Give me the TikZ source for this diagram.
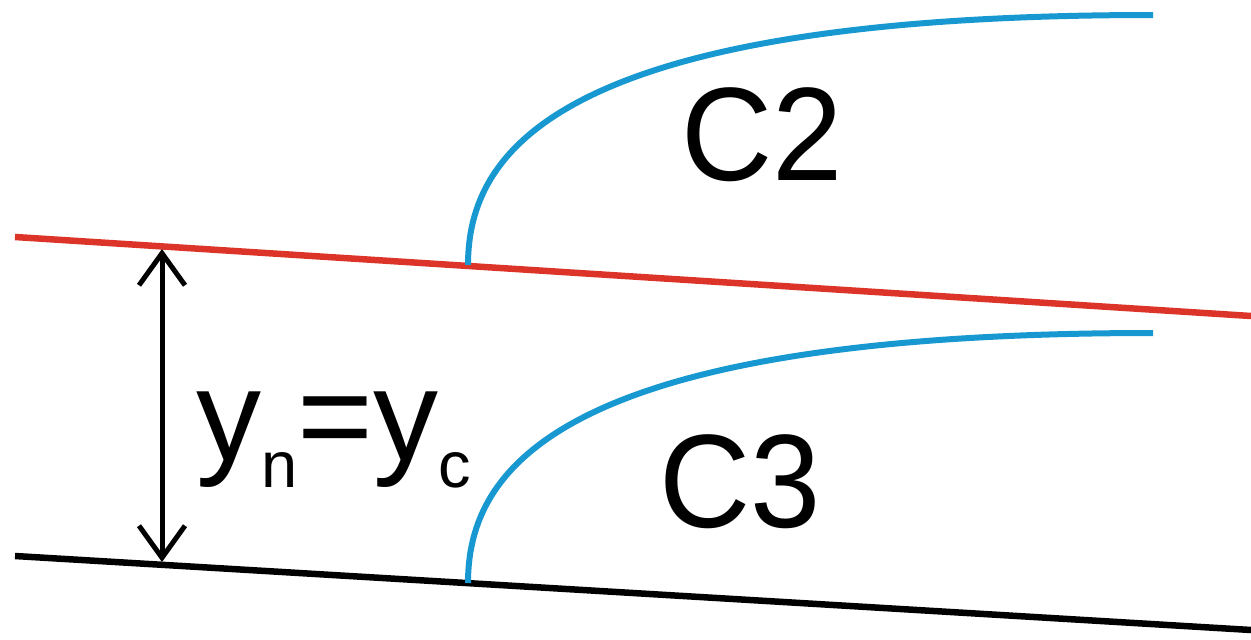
\documentclass[tikz,border=0pt]{standalone}
\usepackage{fontspec}
\setmainfont{Liberation Sans}
\usetikzlibrary{arrows.meta}
\definecolor{chred}{RGB}{220,52,40}
\definecolor{chblue}{RGB}{24,152,208}
\tikzset{
  bedline/.style={line width=6.5pt},
  surfline/.style={line width=6.5pt, chred},
  profile/.style={line width=6pt, chblue},
  dimarrow/.style={line width=5pt, {Straight Barb[length=32pt,width=46pt]}-{Straight Barb[length=32pt,width=46pt]}},
  biglabel/.style={inner sep=0pt, anchor=base west, font=\fontsize{133}{133}\selectfont}
}
\begin{document}
\begin{tikzpicture}[x=1pt,y=-1pt]
\useasboundingbox (0,0) rectangle (1251,640);
% water surface (red) and bed (black)
\coordinate (rL) at (15,237);
\coordinate (rR) at (1251,316);
\coordinate (bL) at (15,556);
\coordinate (bR) at (1251,630);
\draw[surfline] (rL) -- (rR);
\draw[bedline] (bL) -- (bR);
% depth arrow
\coordinate (aT) at (162,249);
\coordinate (aB) at (162,562);
\draw[dimarrow] (aT) -- (aB);
% profile curves
\coordinate (c2s) at (468,265);
\coordinate (c2e) at (1153,15);
\draw[profile] (c2s) .. controls (468,150) and (560,15) .. (c2e);
\coordinate (c3s) at (468,583);
\coordinate (c3e) at (1153,333);
\draw[profile] (c3s) .. controls (468,468) and (560,333) .. (c3e);
% labels
\node[biglabel] (lbl) at (196,460) {\fontsize{130}{130}\selectfont y\raisebox{-27pt}{\fontsize{65}{65}\selectfont n}=y\raisebox{-27pt}{\fontsize{65}{65}\selectfont c}};
\node[biglabel, xscale=0.95] (C2) at (681,180) {C2};
\node[biglabel, xscale=0.95] (C3) at (659,527) {C3};
\end{tikzpicture}
\end{document}
